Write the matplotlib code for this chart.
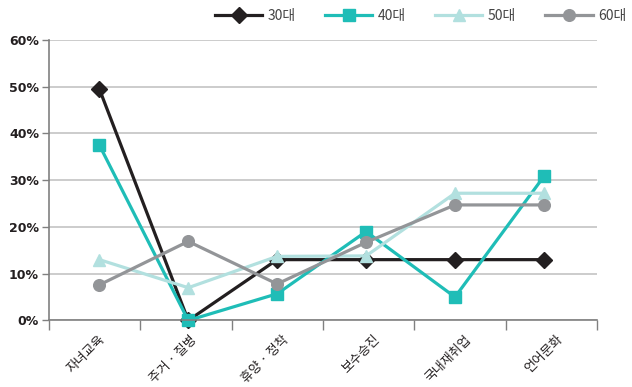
import numpy as np
import matplotlib
matplotlib.use('Agg')
from matplotlib import pyplot as plt
from matplotlib.ticker import FixedLocator, NullFormatter

plt.rcParams['font.family'] = ['Noto Sans CJK KR', 'DejaVu Sans']

categories = ['자녀교육', '주거 · 질병', '휴양 · 정착', '보수승진', '국내재취업', '언어문화']
series_names = ['30대', '40대', '50대', '60대']
vals_30 = [49.5, 0, 13, 13, 13, 13]
vals_40 = [37.5, 0, 5.7, 19, 5, 30.8]
vals_50 = [13, 7, 13.7, 13.8, 27.2, 27.2]
vals_60 = [7.6, 16.9, 7.8, 16.7, 24.7, 24.7]
y_ticks = [0, 10, 20, 30, 40, 50, 60]

colors = ['#231f20', '#1fbdb7', '#b2e0df', '#939598']
markers = ['D', 's', '^', 'o']
msizes = [8.6, 9, 9.2, 8.4]

fig = plt.figure(figsize=(6.32, 3.87), dpi=100)
ax = fig.add_axes([0.077, 0.172, 0.868, 0.725])

x = np.arange(len(categories))
for name, vals, c, m, ms in zip(series_names, [vals_30, vals_40, vals_50, vals_60],
                                colors, markers, msizes):
    ax.plot(x, vals, color=c, lw=2.3, marker=m, ms=ms, mec=c, mfc=c,
            label=name, clip_on=False)

x0, x1 = -0.57, 5.6
ax.set_xlim(x0, x1)
ax.set_ylim(0, 60)

# bin edges as ticks, labels in the middle of each bin
edges = np.linspace(x0, x1, len(categories) + 1)
ax.xaxis.set_major_locator(FixedLocator(edges))
ax.xaxis.set_major_formatter(NullFormatter())
ax.xaxis.set_minor_locator(FixedLocator((edges[:-1] + edges[1:]) / 2 + 0.05))
ax.set_xticklabels(categories, minor=True, rotation=45, ha='right',
                   rotation_mode='anchor', fontsize=9.3, color='#231f20')
ax.tick_params(axis='x', which='major', length=7, width=1, color='#808080', direction='out')
ax.tick_params(axis='x', which='minor', length=0, pad=9)

ax.set_yticks(y_ticks)
ax.set_yticklabels([f'{v}%' for v in y_ticks], fontsize=9, fontweight='bold',
                   color='#231f20', family='DejaVu Sans')
ax.tick_params(axis='y', length=5, width=1, color='#808080', pad=2)

ax.grid(axis='y', color='#c4c4c4', lw=1.2)
ax.set_axisbelow(True)
for s in ['top', 'right']:
    ax.spines[s].set_visible(False)
for s in ['left', 'bottom']:
    ax.spines[s].set_color('#808080')
    ax.spines[s].set_linewidth(1.2)

leg = fig.legend(loc='center left', bbox_to_anchor=(215 / 632, 1 - 16 / 387),
                 ncol=4, frameon=False, fontsize=10, handlelength=3.4,
                 handletextpad=0.4, columnspacing=2.1, borderpad=0, borderaxespad=0)
for t in leg.get_texts():
    t.set_color('#444444')

fig.savefig('out.png', dpi=100)
